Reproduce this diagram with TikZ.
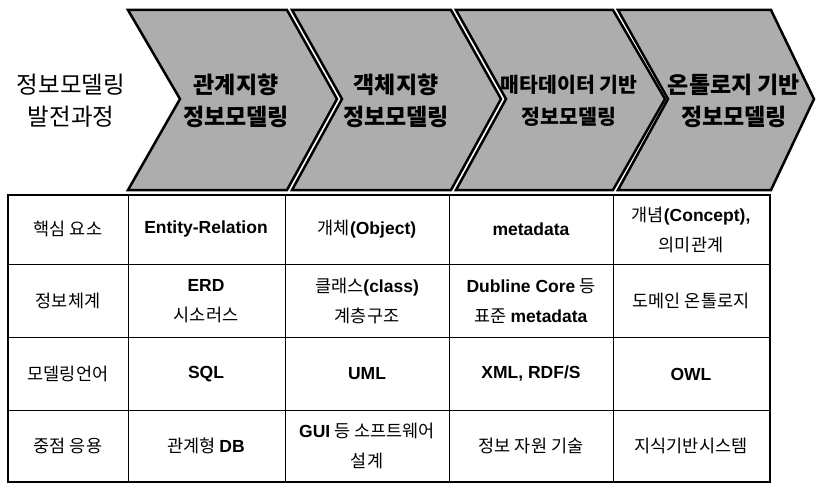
\documentclass[tikz,border=0pt]{standalone}
\usepackage{fontspec}
\setmainfont{Noto Sans CJK KR}
\newfontfamily\latf{Liberation Sans}
\newcommand\en[1]{{\latf\bfseries #1}}
\begin{document}
\begin{tikzpicture}[x=1pt,y=-1pt,
  chev/.style={draw,line width=2.5pt,fill=black!32,line join=miter},
  chevtext/.style={align=center,font=\fontsize{23}{32}\selectfont\bfseries},
  cell/.style={align=center,font=\fontsize{17.5}{30}\selectfont}]
\useasboundingbox (0,0) rectangle (816,484);
\draw[chev] (128,10) -- (287,10) -- (337,99) -- (287,190) -- (128,190) -- (180,99) -- cycle;
\draw[chev] (292,10) -- (451,10) -- (501,99) -- (451,190) -- (292,190) -- (342,99) -- cycle;
\draw[chev] (456,10) -- (613,10) -- (665,99) -- (613,190) -- (456,190) -- (506,99) -- cycle;
\draw[chev] (618,10) -- (771,10) -- (814,99) -- (771,190) -- (618,190) -- (668,99) -- cycle;
\node[align=center,font=\fontsize{23.5}{32}\selectfont] at (71,101) (title){정보모델링\\발전과정};
\node[chevtext] at (236,101) (rel){관계지향\\정보모델링};
\node[chevtext] at (396,101) (obj){객체지향\\정보모델링};
\node[chevtext,font=\fontsize{20.5}{32}\selectfont\bfseries] at (569,101) (meta){매타데이터 기반\\정보모델링};
\node[chevtext] at (734,101) (onto){온톨로지 기반\\정보모델링};
\draw[line width=1pt] (128,195) -- (128,482);
\draw[line width=1pt] (285,195) -- (285,482);
\draw[line width=1pt] (449,195) -- (449,482);
\draw[line width=1pt] (613,195) -- (613,482);
\draw[line width=1pt] (8,264) -- (770,264);
\draw[line width=1pt] (8,337) -- (770,337);
\draw[line width=1pt] (8,410) -- (770,410);
\draw[line width=2.5pt] (8,195) rectangle (770,482);
\node[cell] at (68,229) (key){핵심 요소};
\node[cell] at (206,229) (keyrel){\en{Entity-Relation}};
\node[cell] at (367,229) (keyobj){개체\en{(Object)}};
\node[cell] at (531,229) (keymeta){\en{metadata}};
\node[cell] at (691,230) (keyonto){개념\en{(Concept),}\\의미관계};
\node[cell] at (68,301) (sys){정보체계};
\node[cell] at (206,301) (sysrel){\en{ERD}\\시소러스};
\node[cell] at (367,301) (sysobj){클래스\en{(class)}\\계층구조};
\node[cell] at (531,301) (sysmeta){\en{Dubline Core} 등\\표준 \en{metadata}};
\node[cell] at (691,301) (sysonto){도메인 온톨로지};
\node[cell] at (68,374) (lang){모델링언어};
\node[cell] at (206,374) (langrel){\en{SQL}};
\node[cell] at (367,374) (langobj){\en{UML}};
\node[cell] at (531,374) (langmeta){\en{XML, RDF/S}};
\node[cell] at (691,374) (langonto){\en{OWL}};
\node[cell] at (68,446) (app){중점 응용};
\node[cell] at (206,446) (apprel){관계형 \en{DB}};
\node[cell] at (367,446) (appobj){\en{GUI} 등 소프트웨어\\설계};
\node[cell] at (531,446) (appmeta){정보 자원 기술};
\node[cell] at (691,446) (apponto){지식기반시스템};
\end{tikzpicture}
\end{document}
